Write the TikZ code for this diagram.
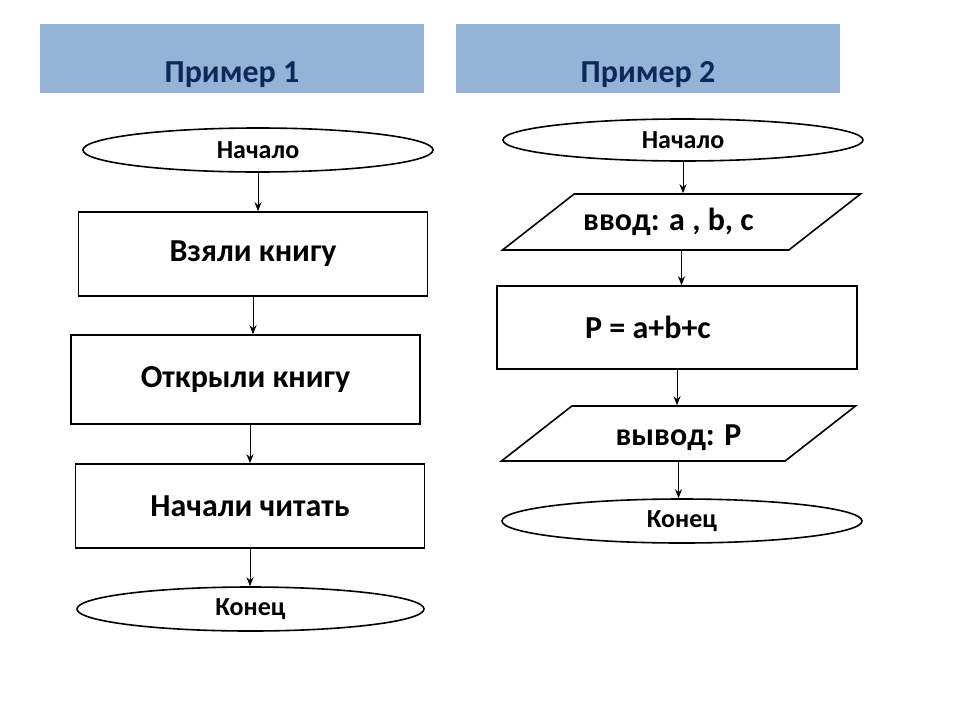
\documentclass[tikz,border=0pt]{standalone}
\usepackage{fontspec}
\setmainfont{Carlito}
\usetikzlibrary{shapes.geometric, arrows.meta}
\definecolor{headblue}{HTML}{95B3D7}
\definecolor{headnavy}{HTML}{10275C}
\tikzstyle{header} = [rectangle, fill=headblue, minimum width=384pt, inner ysep=0pt, text height=58pt, text depth=11pt, text=headnavy, font=\fontsize{32}{36}\selectfont\bfseries]
\tikzstyle{startstop} = [ellipse, draw=black, line width=1.6pt, minimum width=350pt, minimum height=44pt, inner sep=0pt, font=\fontsize{26}{30}\selectfont\bfseries]
\tikzstyle{process} = [rectangle, draw=black, line width=1.6pt, minimum width=349pt, minimum height=84pt, font=\fontsize{32}{36}\selectfont\bfseries]
\tikzstyle{io} = [trapezium, trapezium left angle=38, trapezium right angle=142, trapezium stretches body, draw=black, line width=1.6pt, minimum width=358pt, inner ysep=0pt, inner xsep=4pt, text height=40pt, text depth=16pt, font=\fontsize{32}{36}\selectfont\bfseries]
\tikzstyle{arrow} = [line width=0.9pt, -{Stealth[length=9pt, width=7pt]}]

\begin{document}
\begin{tikzpicture}[x=1pt, y=-1pt]
\useasboundingbox (0,0) rectangle (960,720);
% Headers
\node (head1) [header] at (232,58.5) {Пример 1};
\node (head2) [header] at (648,58.5) {Пример 2};

% Example 1
\node (start) [startstop] at (258,150) {Начало};
\node (take) [process] at (253,254) {\raisebox{-3pt}{Взяли книгу}};
\node (open) [process, minimum height=89pt] at (245.5,379.5) {Открыли книгу};
\node (read) [process] at (250,506) {Начали читать};
\node (end) [startstop, minimum width=347pt] at (250.5,609) {\raisebox{4pt}{Конец}};

% Example 2
\node (start2) [startstop, minimum width=360pt, minimum height=42pt] at (683,140) {Начало};
\node (input) [io, label={[xshift=-13pt, font=\fontsize{32}{36}\selectfont\bfseries]center:ввод: a , b, c}] at (681.5,222) {};
\node (calc) [process, minimum width=360pt, minimum height=83pt, label={[xshift=-29pt, font=\fontsize{32}{36}\selectfont\bfseries]center:P = a+b+c}] at (677,327.5) {};
\node (output) [io, minimum width=354pt, text height=39pt] at (678.5,433.5) {вывод: P};
\node (end2) [startstop, minimum width=360pt] at (682,521) {Конец};

% Draw the arrows
\draw [arrow] (start) -- (start |- take.north);
\draw [arrow] (take) -- (take |- open.north);
\draw [arrow] (open.south -| read) -- (read.north);
\draw [arrow] (read) -- (read |- end.north);
\draw [arrow] (start2) -- (start2 |- input.north);
\draw [arrow] (input) -- (input |- calc.north);
\draw [arrow] (calc) -- (calc |- output.north);
\draw [arrow] (output) -- (output |- end2.north);

\end{tikzpicture}
\end{document}
